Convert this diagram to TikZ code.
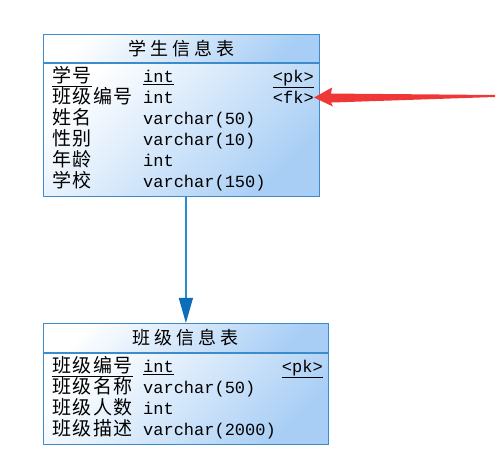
\documentclass[tikz,border=0pt]{standalone}
\usepackage{fontspec}
\setmonofont{Liberation Mono}
\newfontfamily\cjk[LetterSpace=8]{Noto Sans CJK SC}
\newfontfamily\cjkhead[LetterSpace=22]{Noto Sans CJK SC}
\usetikzlibrary{calc,arrows.meta}
\newcommand{\colname}[1]{\raisebox{0pt}[14pt]{\fontsize{19}{21}\cjk #1}}

\definecolor{tblline}{RGB}{60,140,205}
\definecolor{tblfill}{RGB}{168,206,245}
\definecolor{linkblue}{RGB}{40,140,205}
\definecolor{linkhead}{RGB}{10,110,185}
\definecolor{arrowred}{RGB}{240,55,55}

\tikzset{
	tblhead/.style={draw=tblline, line width=0.8pt, top color=white, bottom color=tblfill, shading angle=45, inner sep=0pt, font=\fontsize{18}{21}\selectfont\cjkhead},
	tblbody/.style={draw=tblline, line width=0.8pt, top color=white, bottom color=tblfill, shading angle=45, inner sep=0pt},
	rows/.style={inner sep=0pt, anchor=north west, font=\fontsize{17}{21}\selectfont\ttfamily},
	keyname/.style={inner sep=0pt, anchor=base east, font=\fontsize{17}{21}\selectfont\ttfamily},
	link/.style={draw=linkblue, line width=1.2pt, -{Triangle[length=25pt,width=14pt,color=linkhead]}}
}

\begin{document}
\begin{tikzpicture}[x=1pt, y=-1pt]
		%%%%% START %%%%%
		\useasboundingbox (0,0) rectangle (504,454);
		
		% student table
		\node[tblhead, minimum width=276, minimum height=28, anchor=north west] (stuhead) at (43,34) {学生信息表};
		\node[tblbody, minimum width=276, minimum height=133, anchor=north] (stubody) at (stuhead.south) {};
		\node[rows] (sturows) at (52,68) {\begin{tabular}{@{}p{91pt}@{}l@{}}
			\underline{\colname{学号}} & \underline{int}\\
			\colname{班级编号} & int\\
			\colname{姓名} & varchar(50)\\
			\colname{性别} & varchar(10)\\
			\colname{年龄} & int\\
			\colname{学校} & varchar(150)
		\end{tabular}};
		\node[keyname] (stupk) at (314,82.7) {\underline{<pk>}};
		\node[keyname] (stufk) at (314,103.7) {<fk>};
		
		% class table
		\node[tblhead, minimum width=285, minimum height=29, anchor=north west] (clshead) at (43,323) {班级信息表};
		\node[tblbody, minimum width=285, minimum height=91, anchor=north] (clsbody) at (clshead.south) {};
		\node[rows] (clsrows) at (52,358) {\begin{tabular}{@{}p{91pt}@{}l@{}}
			\underline{\colname{班级编号}} & \underline{int}\\
			\colname{班级名称} & varchar(50)\\
			\colname{班级人数} & int\\
			\colname{班级描述} & varchar(2000)
		\end{tabular}};
		\node[keyname] (clspk) at (323,372.7) {\underline{<pk>}};
		
		\draw[link] (clshead.north |- stubody.south) -- (clshead.north);
		
		% red pointer
		\coordinate (redtail) at (495,96);
		\fill[arrowred] (stufk.east) -- ($(stufk.east)+(18,-10)$) -- ($(stufk.east)+(17,-4)$) -- ($(redtail)+(0,-1)$) -- ($(redtail)+(0,1)$) -- ($(stufk.east)+(17,5)$) -- ($(stufk.east)+(19,9)$) -- cycle;
		
		%%%%% END %%%%%
	\end{tikzpicture}
\end{document}
